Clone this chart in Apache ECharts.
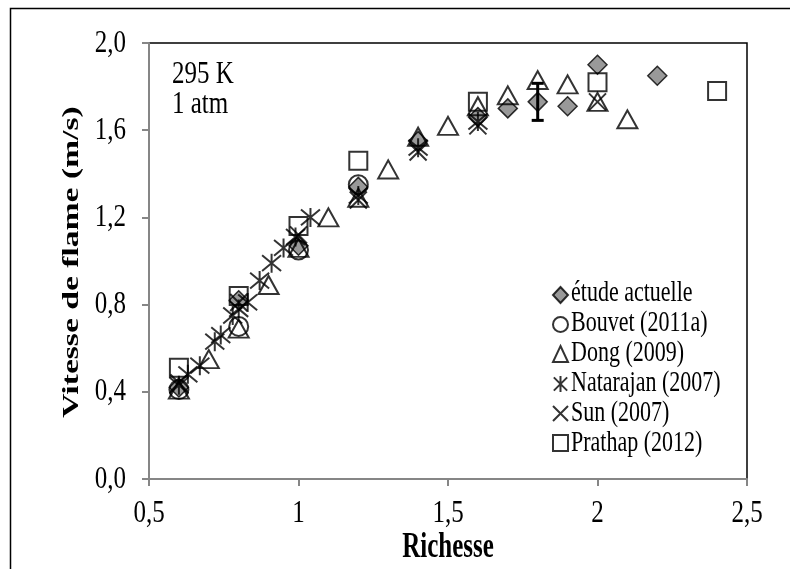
<!DOCTYPE html>
<html>
<head>
<meta charset="utf-8">
<script src="https://cdn.jsdelivr.net/npm/echarts@6/dist/echarts.min.js"></script>
<style>
  html, body { margin: 0; padding: 0; background: #ffffff; }
  #chart { width: 790px; height: 569px; }
</style>
</head>
<body>
<div id="chart"></div>
<script>
// Laminar flame speed vs. equivalence ratio (295 K, 1 atm)
const xTicks = [0.5, 1, 1.5, 2, 2.5];
const yTicks = [0, 0.4, 0.8, 1.2, 1.6, 2.0];

const studyX = [0.6, 0.8, 1.0, 1.2, 1.4, 1.6, 1.7, 1.8, 1.9, 2.0, 2.2];
const studyY = [0.42, 0.82, 1.07, 1.34, 1.55, 1.66, 1.70, 1.73, 1.71, 1.90, 1.85];
const studyErr = [0, 0, 0, 0, 0, 0, 0, 0.085, 0, 0, 0];

const bouvetX = [0.6, 0.8, 1.0, 1.2];
const bouvetY = [0.41, 0.70, 1.05, 1.35];

const dongX = [0.6, 0.7, 0.8, 0.9, 1.0, 1.1, 1.2, 1.3, 1.4, 1.5, 1.6, 1.7, 1.8, 1.9, 2.0, 2.1];
const dongY = [0.41, 0.55, 0.69, 0.89, 1.06, 1.20, 1.29, 1.42, 1.57, 1.62, 1.71, 1.76, 1.83, 1.81, 1.73, 1.65];

const natarajanX = [0.60, 0.63, 0.67, 0.72, 0.74, 0.78, 0.80, 0.83, 0.87, 0.91, 0.95, 0.99, 1.04, 1.2, 1.4, 1.6];
const natarajanY = [0.43, 0.48, 0.52, 0.63, 0.66, 0.75, 0.78, 0.81, 0.91, 0.99, 1.06, 1.11, 1.20, 1.30, 1.52, 1.64];

const sunX = [0.6, 0.8, 1.0, 1.2, 1.4, 1.6, 2.0];
const sunY = [0.44, 0.81, 1.12, 1.28, 1.50, 1.62, 1.73];

const prathapX = [0.6, 0.8, 1.0, 1.2, 1.6, 2.0, 2.4];
const prathapY = [0.51, 0.84, 1.16, 1.46, 1.73, 1.82, 1.78];

const seriesNames = ['étude actuelle', 'Bouvet (2011a)', 'Dong (2009)', 'Natarajan (2007)', 'Sun (2007)', 'Prathap (2012)'];
const xTitle = 'Richesse';
const yTitle = 'Vitesse de flame (m/s)';
const noteLines = ['295 K', '1 atm'];

const pairs = (xs, ys) => xs.map((x, i) => [x, ys[i]]);
const FONT = '"Liberation Serif", "Times New Roman", serif';
const AXIS_GRAY = '#868686';
const LEGEND_LEFT = 552, LEGEND_TOP = 286, LEGEND_STEP = 30, LEGEND_ICON = 16, LEGEND_ROW = 18;

const STAR = 'path://M0,0L10,10M10,0L0,10M5,-1L5,11';
const CROSS = 'path://M0,0L10,10M10,0L0,10';

const openStyle = { color: 'rgba(0,0,0,0)', borderColor: '#000', borderWidth: 2 };

const errData = studyX
  .map((x, i) => [x, studyY[i] - studyErr[i], studyY[i] + studyErr[i], studyErr[i]])
  .filter(d => d[3] > 0);

const chart = echarts.init(document.getElementById('chart'), null, { renderer: 'canvas' });

chart.setOption({
  backgroundColor: '#ffffff',
  animation: false,
  textStyle: { fontFamily: FONT },
  grid: {
    left: 149, top: 43, width: 598, height: 436,
    show: true, borderColor: '#000', borderWidth: 1.5, backgroundColor: 'transparent'
  },
  xAxis: {
    type: 'value', min: 0.5, max: 2.5, interval: 0.5,
    axisLine: { show: true, onZero: false, lineStyle: { color: AXIS_GRAY, width: 2 } },
    axisTick: { show: true, inside: false, length: 7, lineStyle: { color: AXIS_GRAY, width: 2 } },
    axisLabel: { show: false },
    splitLine: { show: false }
  },
  yAxis: {
    type: 'value', min: 0, max: 2.0, interval: 0.4,
    axisLine: { show: true, onZero: false, lineStyle: { color: AXIS_GRAY, width: 2 } },
    axisTick: { show: true, inside: false, length: 7, lineStyle: { color: AXIS_GRAY, width: 2 } },
    axisLabel: { show: false },
    splitLine: { show: false }
  },
  legend: {
    data: seriesNames,
    orient: 'vertical',
    left: LEGEND_LEFT, top: LEGEND_TOP, padding: 0,
    itemWidth: 15, itemHeight: LEGEND_ICON, itemGap: LEGEND_STEP - LEGEND_ROW,
    formatter: () => '',
    textStyle: { fontSize: 10, lineHeight: 12, padding: 0 },
    selectedMode: false
  },
  series: [
    {
      name: seriesNames[0], type: 'scatter', data: pairs(studyX, studyY),
      symbol: 'diamond', symbolSize: 19, z: 2,
      itemStyle: { color: '#7f7f7f', borderColor: '#000', borderWidth: 1.5 }
    },
    {
      type: 'custom', z: 3, silent: true,
      data: errData,
      renderItem: (params, api) => {
        const x = api.value(0);
        const top = api.coord([x, api.value(2)]);
        const bot = api.coord([x, api.value(1)]);
        const cap = 6;
        const st = { stroke: '#000', lineWidth: 3 };
        return {
          type: 'group',
          children: [
            { type: 'line', shape: { x1: top[0], y1: top[1], x2: bot[0], y2: bot[1] }, style: st },
            { type: 'line', shape: { x1: top[0] - cap, y1: top[1], x2: top[0] + cap, y2: top[1] }, style: st },
            { type: 'line', shape: { x1: bot[0] - cap, y1: bot[1], x2: bot[0] + cap, y2: bot[1] }, style: st }
          ]
        };
      }
    },
    {
      name: seriesNames[1], type: 'scatter', data: pairs(bouvetX, bouvetY),
      symbol: 'circle', symbolSize: 19, z: 3, itemStyle: openStyle
    },
    {
      name: seriesNames[2], type: 'scatter', data: pairs(dongX, dongY),
      symbol: 'triangle', symbolSize: [20, 18], z: 4, itemStyle: openStyle
    },
    {
      name: seriesNames[3], type: 'scatter', data: pairs(natarajanX, natarajanY),
      symbol: STAR, symbolSize: 19, z: 5, itemStyle: openStyle
    },
    {
      name: seriesNames[4], type: 'scatter', data: pairs(sunX, sunY),
      symbol: CROSS, symbolSize: 17, z: 6, itemStyle: openStyle
    },
    {
      name: seriesNames[5], type: 'scatter', data: pairs(prathapX, prathapY),
      symbol: 'rect', symbolSize: 18, z: 7, itemStyle: openStyle
    }
  ]
});

// Tall, narrow text placed from the axis scales
function tallText(x, y, text, size, stretch, opts) {
  opts = opts || {};
  return {
    type: 'text', x: x, y: y, z: 100, silent: true,
    rotation: opts.rotation || 0,
    scaleX: opts.rotation ? stretch : 1,
    scaleY: opts.rotation ? 1 : stretch,
    style: {
      text: text,
      font: (opts.bold ? 'bold ' : '') + size + 'px ' + FONT,
      fill: '#000',
      align: opts.align || 'left',
      verticalAlign: 'middle'
    }
  };
}

const fmtX = v => String(v).replace('.', ',');
const fmtY = v => v.toFixed(1).replace('.', ',');
const pt = (x, y) => chart.convertToPixel({ gridIndex: 0 }, [x, y]);

const labels = [];
xTicks.forEach(v => {
  const p = pt(v, 0);
  labels.push(tallText(p[0], p[1] + 34, fmtX(v), 25, 1.3, { align: 'center' }));
});
yTicks.forEach(v => {
  const p = pt(0.5, v);
  labels.push(tallText(p[0] - 23, p[1], fmtY(v), 25, 1.3, { align: 'right' }));
});
const mid = pt(1.5, 1.0);
labels.push(tallText(mid[0], 548, xTitle, 25, 1.4, { align: 'center', bold: true }));
labels.push(tallText(72, 262, yTitle, 24, 1.4, { align: 'center', bold: true, rotation: Math.PI / 2 }));
noteLines.forEach((t, i) => labels.push(tallText(172, 74 + i * 30, t, 25, 1.3)));
seriesNames.forEach((t, i) => labels.push(
  tallText(LEGEND_LEFT + 19, LEGEND_TOP + 7 + i * LEGEND_STEP, t, 22, 1.35)));

labels.push({
  type: 'rect', left: 8, top: 6, z: 100, silent: true,
  shape: { width: 800, height: 600 },
  style: { fill: 'none', stroke: '#000', lineWidth: 1.5 }
});

chart.setOption({ graphic: labels });
</script>
</body>
</html>
